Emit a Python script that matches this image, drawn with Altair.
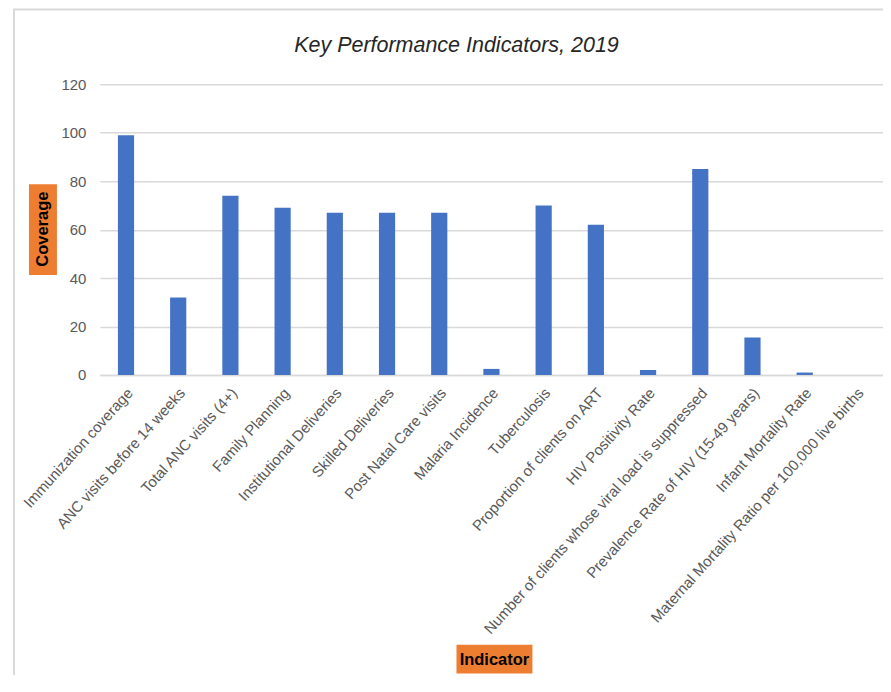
import altair as alt
import pandas as pd

indicators = [
    "Immunization coverage",
    "ANC visits before 14 weeks",
    "Total ANC visits (4+)",
    "Family Planning",
    "Institutional Deliveries",
    "Skilled Deliveries",
    "Post Natal Care visits",
    "Malaria Incidence",
    "Tuberculosis",
    "Proportion of clients on ART",
    "HIV Positivity Rate",
    "Number of clients whose viral load is suppressed",
    "Prevalence Rate of HIV (15-49 years)",
    "Infant Mortality Rate",
    "Maternal Mortality Ratio per 100,000 live births",
]
coverage = [99, 32, 74, 69, 67, 67, 67, 2.5, 70, 62, 2, 85, 15.5, 1, 0]
y_ticks = [0, 20, 40, 60, 80, 100, 120]

FONT = "Liberation Sans"
W, H = 784, 291

df = pd.DataFrame({"Indicator": indicators, "Coverage": coverage})
one = pd.DataFrame({"k": [0]})

bars = alt.Chart(df).mark_bar(color="#4472C4").encode(
    x=alt.X(
        "Indicator:N",
        sort=indicators,
        title=None,
        scale=alt.Scale(paddingInner=0.69, paddingOuter=0.345),
        axis=alt.Axis(
            labelAngle=-48,
            labelAlign="right",
            labelBaseline="middle",
            labelPadding=15,
            labelOffset=4,
            labelFont=FONT,
            labelFontSize=15,
            labelColor="#595959",
            labelLimit=600,
            labelOverlap=False,
            ticks=False,
            domainColor="#D9D9D9",
            domainWidth=1.5,
            grid=False,
        ),
    ),
    y=alt.Y(
        "Coverage:Q",
        title=None,
        scale=alt.Scale(domain=[0, 120], nice=False),
        axis=alt.Axis(
            values=y_ticks,
            labelFont=FONT,
            labelFontSize=15,
            labelColor="#595959",
            labelPadding=14,
            ticks=False,
            domain=False,
            gridColor="#D9D9D9",
            gridWidth=1.5,
        ),
    ),
)

border = alt.Chart(one).mark_rect(
    fill=None, stroke="#D9D9D9", strokeWidth=2
).encode(
    x=alt.value(-86), x2=alt.value(820), y=alt.value(-75), y2=alt.value(606)
)

title = alt.Chart(one).mark_text(
    text="Key Performance Indicators, 2019", font=FONT, fontSize=21.5,
    fontStyle="italic", color="#262626", align="center", baseline="alphabetic"
).encode(x=alt.value(357), y=alt.value(-32))

ybox = alt.Chart(one).mark_rect(color="#ED7D31").encode(
    x=alt.value(-71), x2=alt.value(-43), y=alt.value(100), y2=alt.value(191)
)
ytext = alt.Chart(one).mark_text(
    text="Coverage", angle=270, font=FONT, fontSize=16.5, fontWeight="bold",
    color="#000000", align="center", baseline="middle"
).encode(x=alt.value(-57), y=alt.value(145))

xbox = alt.Chart(one).mark_rect(color="#ED7D31").encode(
    x=alt.value(357), x2=alt.value(433), y=alt.value(561), y2=alt.value(590)
)
xtext = alt.Chart(one).mark_text(
    text="Indicator", font=FONT, fontSize=16.5, fontWeight="bold",
    color="#000000", align="center", baseline="middle"
).encode(x=alt.value(395), y=alt.value(576))

chart = alt.layer(border, title, bars, ybox, ytext, xbox, xtext).properties(
    width=W,
    height=H,
    padding={"left": 92, "top": 76, "right": 0, "bottom": 300},
    autosize=alt.AutoSizeParams(type="none"),
).configure_view(stroke=None)

chart.save("out.html", embed_options={"renderer": "svg", "actions": False})
